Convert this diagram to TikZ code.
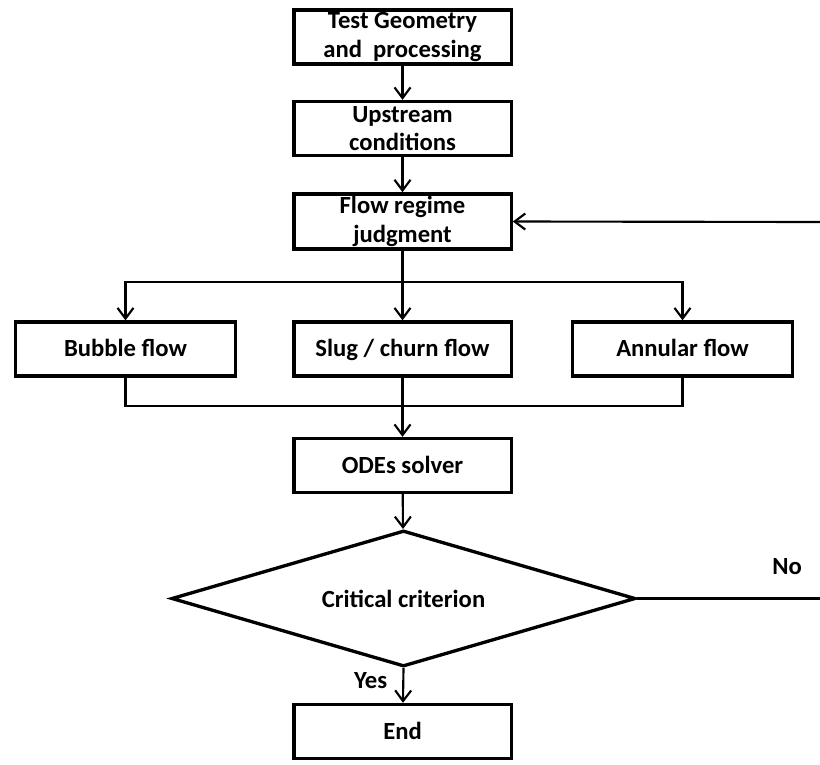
\documentclass[tikz,border=0pt]{standalone}
\usepackage{fontspec}
\setmainfont{Carlito}
\usetikzlibrary{shapes.geometric,arrows.meta}

\tikzset{
  stepbox/.style={draw, line width=2.5pt, minimum width=163pt, minimum height=40.5pt,
    inner sep=2pt, align=center, font=\bfseries\fontsize{18.5}{21.3}\selectfont},
  oneline/.style={text height=15.5pt, text depth=4pt},
  decision/.style={draw, diamond, line width=2.5pt, shape aspect=3.4, minimum width=348pt,
    minimum height=102pt, inner sep=0pt, font=\bfseries\fontsize{18.5}{21.3}\selectfont},
  link/.style={line width=1.6pt, -{Straight Barb[length=8pt,width=12pt,line width=1.6pt]}},
  plain/.style={line width=1.6pt},
  tag/.style={font=\bfseries\fontsize{18.5}{21.3}\selectfont}
}

\begin{document}
\begin{tikzpicture}[x=0.75pt, y=-0.75pt]
  \useasboundingbox (0,0) rectangle (820,764);

  % main column
  \node[stepbox] (geom)  at (402.5,37)    {Test Geometry\\and\ \ processing};
  \node[stepbox] (up)    at (402.5,128.5) {Upstream\\conditions};
  \node[stepbox] (judge) at (402.5,221.5) {Flow regime\\judgment};

  % flow regimes
  \node[stepbox, oneline, minimum width=165pt] (bubble)  at (125.5,349) {Bubble flow};
  \node[stepbox, oneline]                      (slug)    at (402.5,349) {Slug / churn flow};
  \node[stepbox, oneline, minimum width=165pt] (annular) at (682.5,349) {Annular flow};

  \node[stepbox, oneline] (odes) at (402.5,465.5) {ODEs solver};
  \node[decision]         (crit) at (403.5,598.5) {Critical criterion};
  \node[stepbox, oneline] (stop) at (402.5,731.5) {End};

  % branch and merge points
  \coordinate (split) at (402.5,282);
  \coordinate (merge) at (402.5,406);
  \coordinate (backA) at (820,598.5);
  \coordinate (backB) at (820,222);

  \draw[link] (geom) -- (up);
  \draw[link] (up) -- (judge);

  % split into the three regimes
  \draw[link] (judge) -- (slug);
  \draw[link] (split) -| (bubble.north);
  \draw[link] (split) -| (annular.north);

  % merge back to the solver
  \draw[plain] (bubble.south) |- (merge);
  \draw[plain] (annular.south) |- (merge);
  \draw[link] (slug) -- (odes);

  \draw[link] (odes) -- (crit);
  \draw[link] (crit.south) -- (stop) node[tag, pos=0.35, left=8pt] (yes) {Yes};

  % loop back when the criterion fails
  \draw[plain] (crit.east) -- (backA) node[tag, pos=0.82, above=14pt] (no) {No};
  \draw[link] (backB) -- (judge.east);
\end{tikzpicture}
\end{document}
